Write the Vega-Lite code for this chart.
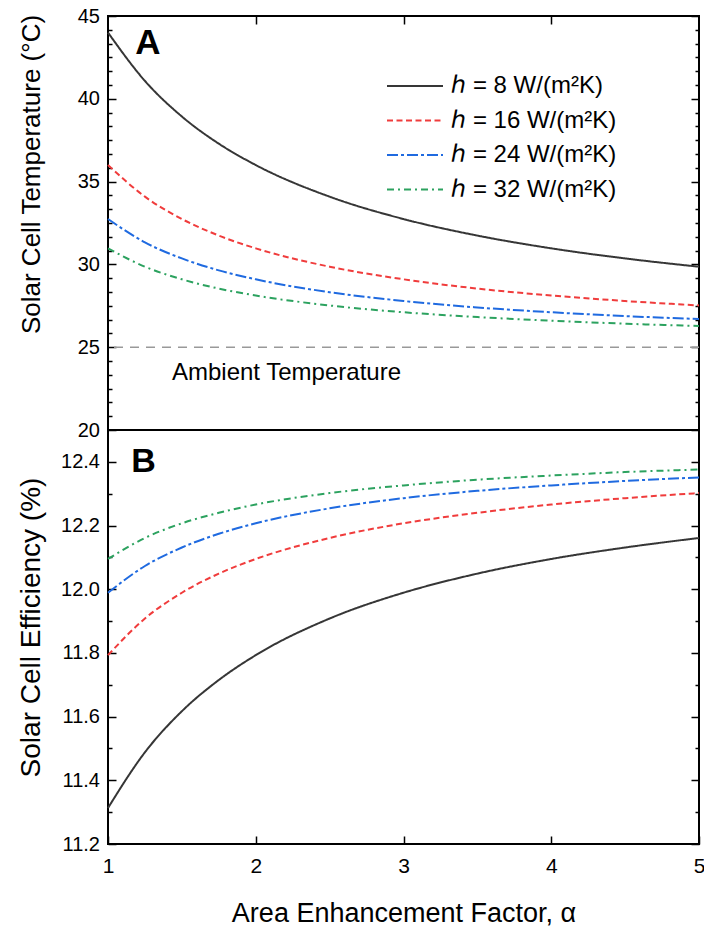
{
  "$schema": "https://vega.github.io/schema/vega-lite/v6.json",
  "padding": {"left": 16, "top": 5, "right": 5, "bottom": 5},
  "datasets": {
    "curves": [
      {"a": 1, "h": "8", "T": 44.00, "eff": 11.313},
      {"a": 1.25, "h": "8", "T": 41.08, "eff": 11.488},
      {"a": 1.5, "h": "8", "T": 38.93, "eff": 11.617},
      {"a": 1.75, "h": "8", "T": 37.29, "eff": 11.715},
      {"a": 2, "h": "8", "T": 36.00, "eff": 11.793},
      {"a": 2.5, "h": "8", "T": 34.09, "eff": 11.908},
      {"a": 3, "h": "8", "T": 32.74, "eff": 11.989},
      {"a": 3.5, "h": "8", "T": 31.74, "eff": 12.049},
      {"a": 4, "h": "8", "T": 30.97, "eff": 12.095},
      {"a": 4.5, "h": "8", "T": 30.36, "eff": 12.131},
      {"a": 5, "h": "8", "T": 29.86, "eff": 12.161},
      {"a": 1, "h": "16", "T": 36.00, "eff": 11.793},
      {"a": 1.25, "h": "16", "T": 34.09, "eff": 11.908},
      {"a": 1.5, "h": "16", "T": 32.74, "eff": 11.989},
      {"a": 1.75, "h": "16", "T": 31.74, "eff": 12.049},
      {"a": 2, "h": "16", "T": 30.97, "eff": 12.095},
      {"a": 2.5, "h": "16", "T": 29.86, "eff": 12.161},
      {"a": 3, "h": "16", "T": 29.10, "eff": 12.207},
      {"a": 3.5, "h": "16", "T": 28.54, "eff": 12.240},
      {"a": 4, "h": "16", "T": 28.12, "eff": 12.266},
      {"a": 4.5, "h": "16", "T": 27.79, "eff": 12.286},
      {"a": 5, "h": "16", "T": 27.52, "eff": 12.302},
      {"a": 1, "h": "24", "T": 32.74, "eff": 11.989},
      {"a": 1.25, "h": "24", "T": 31.33, "eff": 12.073},
      {"a": 1.5, "h": "24", "T": 30.36, "eff": 12.131},
      {"a": 1.75, "h": "24", "T": 29.64, "eff": 12.174},
      {"a": 2, "h": "24", "T": 29.10, "eff": 12.207},
      {"a": 2.5, "h": "24", "T": 28.32, "eff": 12.254},
      {"a": 3, "h": "24", "T": 27.79, "eff": 12.286},
      {"a": 3.5, "h": "24", "T": 27.40, "eff": 12.309},
      {"a": 4, "h": "24", "T": 27.11, "eff": 12.326},
      {"a": 4.5, "h": "24", "T": 26.88, "eff": 12.340},
      {"a": 5, "h": "24", "T": 26.70, "eff": 12.351},
      {"a": 1, "h": "32", "T": 30.97, "eff": 12.095},
      {"a": 1.25, "h": "32", "T": 29.86, "eff": 12.161},
      {"a": 1.5, "h": "32", "T": 29.10, "eff": 12.207},
      {"a": 1.75, "h": "32", "T": 28.54, "eff": 12.240},
      {"a": 2, "h": "32", "T": 28.12, "eff": 12.266},
      {"a": 2.5, "h": "32", "T": 27.52, "eff": 12.302},
      {"a": 3, "h": "32", "T": 27.11, "eff": 12.326},
      {"a": 3.5, "h": "32", "T": 26.82, "eff": 12.344},
      {"a": 4, "h": "32", "T": 26.60, "eff": 12.357},
      {"a": 4.5, "h": "32", "T": 26.42, "eff": 12.368},
      {"a": 5, "h": "32", "T": 26.28, "eff": 12.376}
    ]
  },
  "config": {
    "font": "Liberation Sans",
    "view": {"stroke": "#000", "strokeWidth": 2},
    "axis": {
      "grid": false, "domain": false, "tickColor": "#000", "tickWidth": 1.5,
      "labelColor": "#000", "titleColor": "#000", "labelFont": "Liberation Sans",
      "titleFont": "Liberation Sans", "titleFontWeight": "normal",
      "labelFlush": false, "labelOverlap": false
    }
  },
  "spacing": 0,
  "bounds": "flush",
  "resolve": {"legend": {"color": "independent", "strokeDash": "independent"}},
  "vconcat": [
    {
      "width": 591,
      "height": 414,
      "resolve": {"axis": {"x": "independent", "y": "independent"}},
      "layer": [
        {
          "data": {"name": "curves"},
          "mark": {"type": "line", "strokeWidth": 2, "interpolate": "monotone"},
          "encoding": {
            "x": {"field": "a", "type": "quantitative", "scale": {"domain": [1, 5], "nice": false},
                  "axis": {"orient": "top", "values": [2, 3, 4], "labels": false, "tickSize": -8, "title": null}},
            "y": {"field": "T", "type": "quantitative", "scale": {"domain": [20, 45], "nice": false, "zero": false},
                  "axis": {"orient": "left", "values": [20, 25, 30, 35, 40, 45], "tickSize": -8, "labelPadding": 16.5,
                           "labelFontSize": 20, "title": "Solar Cell Temperature (°C)", "titleFontSize": 26,
                           "titleAngle": -90, "titleBaseline": "alphabetic", "titleX": -69, "titleY": 158}},
            "color": {"field": "h", "type": "nominal",
                      "scale": {"domain": ["8", "16", "24", "32"], "range": ["#363636", "#f03c3c", "#1f6ae0", "#2ca25f"]},
                      "legend": {"orient": "none", "legendX": 278, "legendY": 58, "title": null, "symbolType": "stroke",
                                 "symbolSize": 3136, "symbolStrokeWidth": 2, "clipHeight": 24, "rowPadding": 10.5,
                                 "labelOffset": 7, "labelFontSize": 24, "labelFont": "Liberation Sans, DejaVu Sans",
                                 "labelColor": "#000", "labelLimit": 400, "padding": 0,
                                 "labelExpr": "'ℎ = ' + datum.label + ' W/(m²K)'"}},
            "strokeDash": {"field": "h", "type": "nominal",
                           "scale": {"domain": ["8", "16", "24", "32"], "range": [[1, 0], [6, 3.5], [11, 3, 3, 3], [7, 4, 2, 4]]},
                           "legend": {"orient": "none", "legendX": 278, "legendY": 58, "title": null, "symbolType": "stroke",
                                      "symbolSize": 3136, "symbolStrokeWidth": 2, "clipHeight": 24, "rowPadding": 10.5,
                                      "labelOffset": 7, "labelFontSize": 24, "labelFont": "Liberation Sans, DejaVu Sans",
                                      "labelColor": "#000", "labelLimit": 400, "padding": 0,
                                      "labelExpr": "'ℎ = ' + datum.label + ' W/(m²K)'"}}
          }
        },
        {
          "data": {"values": [{}]},
          "mark": {"type": "rule", "color": "#999999", "strokeDash": [9, 7], "strokeWidth": 1.5},
          "encoding": {
            "y": {"datum": 25, "type": "quantitative", "scale": {"domain": [20, 45], "nice": false, "zero": false},
                  "axis": {"orient": "right", "values": [20, 25, 30, 35, 40, 45], "labels": false, "tickSize": -8, "title": null}}
          }
        },
        {
          "data": {"values": [{}]},
          "mark": {"type": "text", "text": "Ambient Temperature", "fontSize": 24, "align": "left", "baseline": "middle", "color": "#000"},
          "encoding": {
            "x": {"datum": 1.433, "type": "quantitative", "scale": {"domain": [1, 5], "nice": false}, "axis": null},
            "y": {"datum": 23.46, "type": "quantitative", "scale": {"domain": [20, 45], "nice": false, "zero": false},
                  "axis": {"orient": "left", "labels": false, "tickSize": -4, "title": null,
                           "values": [20.8333, 21.6667, 22.5, 23.3333, 24.1667, 25.8333, 26.6667, 27.5, 28.3333, 29.1667, 30.8333, 31.6667, 32.5, 33.3333, 34.1667, 35.8333, 36.6667, 37.5, 38.3333, 39.1667, 40.8333, 41.6667, 42.5, 43.3333, 44.1667]}}
          }
        },
        {
          "data": {"values": [{}]},
          "mark": {"type": "text", "text": "A", "fontSize": 35, "fontWeight": "bold", "align": "center", "baseline": "middle", "color": "#000"},
          "encoding": {
            "x": {"datum": 1.27, "type": "quantitative", "scale": {"domain": [1, 5], "nice": false}, "axis": null},
            "y": {"datum": 43.37, "type": "quantitative", "scale": {"domain": [20, 45], "nice": false, "zero": false},
                  "axis": {"orient": "right", "labels": false, "tickSize": -4, "title": null,
                           "values": [20.8333, 21.6667, 22.5, 23.3333, 24.1667, 25.8333, 26.6667, 27.5, 28.3333, 29.1667, 30.8333, 31.6667, 32.5, 33.3333, 34.1667, 35.8333, 36.6667, 37.5, 38.3333, 39.1667, 40.8333, 41.6667, 42.5, 43.3333, 44.1667]}}
          }
        }
      ]
    },
    {
      "width": 591,
      "height": 414,
      "resolve": {"axis": {"x": "independent", "y": "independent"}},
      "layer": [
        {
          "data": {"name": "curves"},
          "mark": {"type": "line", "strokeWidth": 2, "interpolate": "monotone"},
          "encoding": {
            "x": {"field": "a", "type": "quantitative", "scale": {"domain": [1, 5], "nice": false},
                  "axis": {"orient": "bottom", "values": [1, 2, 3, 4, 5], "tickSize": -8, "labelPadding": 19, "labelFontSize": 21,
                           "title": "Area Enhancement Factor, α", "titleFontSize": 27, "titleBaseline": "alphabetic", "titleY": 77}},
            "y": {"field": "eff", "type": "quantitative", "scale": {"domain": [11.2, 12.5], "nice": false, "zero": false},
                  "axis": {"orient": "left", "values": [11.2, 11.4, 11.6, 11.8, 12.0, 12.2, 12.4], "format": ".1f", "tickSize": -8,
                           "labelPadding": 16.5, "labelFontSize": 20, "title": "Solar Cell Efficiency (%)", "titleFontSize": 28,
                           "titleAngle": -90, "titleBaseline": "alphabetic", "titleX": -69, "titleY": 197}},
            "color": {"field": "h", "type": "nominal",
                      "scale": {"domain": ["8", "16", "24", "32"], "range": ["#363636", "#f03c3c", "#1f6ae0", "#2ca25f"]},
                      "legend": null},
            "strokeDash": {"field": "h", "type": "nominal",
                           "scale": {"domain": ["8", "16", "24", "32"], "range": [[1, 0], [6, 3.5], [11, 3, 3, 3], [7, 4, 2, 4]]},
                           "legend": null}
          }
        },
        {
          "data": {"values": [{}]},
          "mark": {"type": "text", "text": "B", "fontSize": 34, "fontWeight": "bold", "align": "center", "baseline": "middle", "color": "#000"},
          "encoding": {
            "x": {"datum": 1.24, "type": "quantitative", "scale": {"domain": [1, 5], "nice": false}, "axis": null},
            "y": {"datum": 12.4, "type": "quantitative", "scale": {"domain": [11.2, 12.5], "nice": false, "zero": false},
                  "axis": {"orient": "right", "values": [11.2, 11.4, 11.6, 11.8, 12.0, 12.2, 12.4], "labels": false, "tickSize": -8, "title": null}}
          }
        },
        {
          "data": {"values": [{}]},
          "mark": {"type": "text", "text": "", "color": "#000"},
          "encoding": {
            "x": {"datum": 3, "type": "quantitative", "scale": {"domain": [1, 5], "nice": false}, "axis": null},
            "y": {"datum": 12, "type": "quantitative", "scale": {"domain": [11.2, 12.5], "nice": false, "zero": false},
                  "axis": {"orient": "left", "values": [11.3, 11.5, 11.7, 11.9, 12.1, 12.3], "labels": false, "tickSize": -4, "title": null}}
          }
        },
        {
          "data": {"values": [{}]},
          "mark": {"type": "text", "text": "", "color": "#000"},
          "encoding": {
            "x": {"datum": 3, "type": "quantitative", "scale": {"domain": [1, 5], "nice": false}, "axis": null},
            "y": {"datum": 12, "type": "quantitative", "scale": {"domain": [11.2, 12.5], "nice": false, "zero": false},
                  "axis": {"orient": "right", "values": [11.3, 11.5, 11.7, 11.9, 12.1, 12.3], "labels": false, "tickSize": -4, "title": null}}
          }
        }
      ]
    }
  ]
}
